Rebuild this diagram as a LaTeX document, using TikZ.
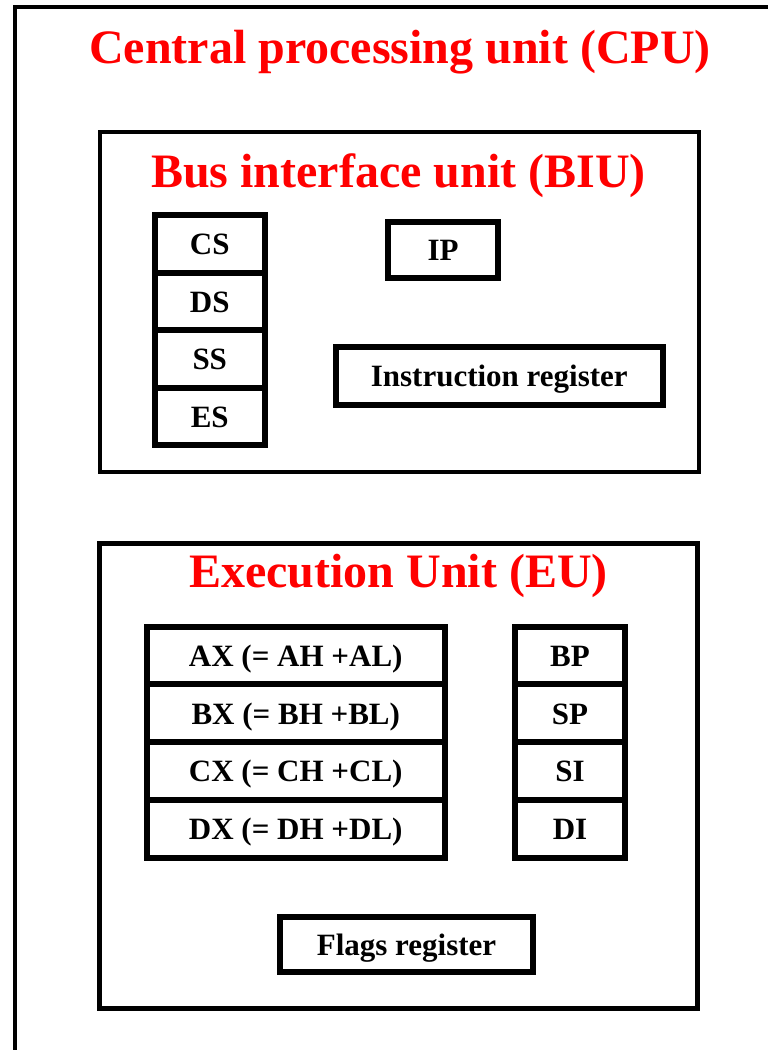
\documentclass[tikz,border=0pt]{standalone}
\usepackage{fontspec}
\setmainfont{Liberation Serif}
\begin{document}
\begin{tikzpicture}[x=1pt,y=-1pt,
  reg/.style={draw=black,line width=6pt,inner sep=0pt,fill=white,
    text height=22pt,text depth=0pt,
    font=\fontsize{31}{31}\selectfont\bfseries},
  ttl/.style={text=red,inner sep=0pt,anchor=base,
    font=\fontsize{48}{48}\selectfont\bfseries},
  unitbox/.style={draw=black}]
\useasboundingbox (0,0) rectangle (768,1050);
% outer CPU box (extends beyond the page to the right and bottom)
\draw[line width=4pt] (15.3,1200) -- (15.3,7.3) -- (900,7.3);
\node[ttl] (cpu) at (400,63) {Central processing unit (CPU)};
% BIU
\node[unitbox,line width=3.5pt,minimum width=599pt,minimum height=340pt,inner sep=0pt] (biu) at (399.5,302) {};
\node[ttl] (biut) at (398.5,187) {Bus interface unit (BIU)};
\foreach \n/\t [count=\i from 0] in {cs/CS,ds/DS,ss/SS,es/ES}
  \node[reg,minimum width=110.5pt,minimum height=57.5pt] (\n) at (209.75,{215+57.5*(\i+0.5)}) {\t};
\node[reg,minimum width=110pt,minimum height=56.3pt] (ip) at (443,249.8) {IP};
\node[reg,minimum width=327.5pt,minimum height=58.3pt] (ir) at (499.25,375.8) {Instruction register};
% EU
\node[unitbox,line width=5pt,minimum width=597.5pt,minimum height=465pt,inner sep=0pt] (eu) at (398.25,775.5) {};
\node[ttl] (eut) at (398.5,587) {Execution Unit (EU)};
\foreach \n/\t [count=\i from 0] in {ax/{AX (= AH +AL)},bx/{BX (= BH +BL)},cx/{CX (= CH +CL)},dx/{DX (= DH +DL)}}
  \node[reg,minimum width=298.5pt,minimum height=57.75pt] (\n) at (295.75,{626.5+57.75*(\i+0.5)}) {\t};
\foreach \n/\t [count=\i from 0] in {bp/BP,sp/SP,si/SI,di/DI}
  \node[reg,minimum width=110pt,minimum height=57.75pt] (\n) at (570,{626.5+57.75*(\i+0.5)}) {\t};
\node[reg,minimum width=253pt,minimum height=55pt] (flags) at (406.5,944.2) {Flags register};
\end{tikzpicture}
\end{document}
